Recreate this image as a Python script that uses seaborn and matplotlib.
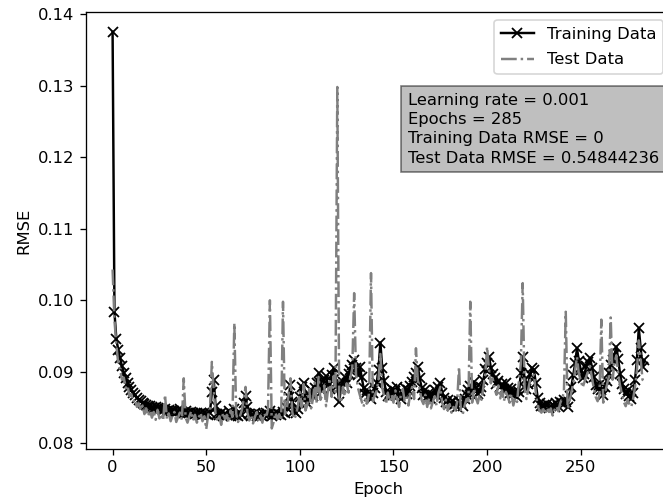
import numpy as np
import seaborn as sns
import matplotlib
matplotlib.use("Agg")
import matplotlib.pyplot as plt

# RMSE per epoch
train_rmse = [
    0.1375, 0.0983, 0.0946, 0.0931, 0.0919, 0.0908, 0.0899, 0.0891, 0.0885, 0.0879,
    0.0874, 0.0870, 0.0867, 0.0864, 0.0861, 0.0859, 0.0857, 0.0855, 0.0854, 0.0853,
    0.0852, 0.0851, 0.0850, 0.0851, 0.0849, 0.0848, 0.0849, 0.0847, 0.0848, 0.0846,
    0.0847, 0.0846, 0.0845, 0.0846, 0.0844, 0.0845, 0.0848, 0.0844, 0.0843, 0.0845,
    0.0843, 0.0842, 0.0844, 0.0842, 0.0841, 0.0843, 0.0841, 0.0842, 0.0840, 0.0842,
    0.0841, 0.0840, 0.0843, 0.0872, 0.0889, 0.0852, 0.0841, 0.0840, 0.0842, 0.0839,
    0.0841, 0.0840, 0.0846, 0.0839, 0.0841, 0.0848, 0.0840, 0.0839, 0.0842, 0.0840,
    0.0856, 0.0866, 0.0851, 0.0841, 0.0839, 0.0840, 0.0842, 0.0839, 0.0841, 0.0840,
    0.0839, 0.0841, 0.0843, 0.0840, 0.0845, 0.0839, 0.0841, 0.0840, 0.0843, 0.0841,
    0.0840, 0.0844, 0.0842, 0.0850, 0.0865, 0.0881, 0.0858, 0.0846, 0.0843, 0.0848,
    0.0865, 0.0879, 0.0884, 0.0862, 0.0857, 0.0868, 0.0874, 0.0866, 0.0878, 0.0884,
    0.0898, 0.0885, 0.0873, 0.0889, 0.0894, 0.0882, 0.0876, 0.0896, 0.0905, 0.0892,
    0.0880, 0.0858, 0.0879, 0.0886, 0.0893, 0.0884, 0.0897, 0.0903, 0.0910, 0.0917,
    0.0905, 0.0895, 0.0907, 0.0893, 0.0878, 0.0869, 0.0874, 0.0866, 0.0862, 0.0871,
    0.0878, 0.0884, 0.0903, 0.0941, 0.0905, 0.0887, 0.0872, 0.0866, 0.0870, 0.0876,
    0.0868, 0.0873, 0.0879, 0.0867, 0.0862, 0.0871, 0.0877, 0.0869, 0.0874, 0.0880,
    0.0886, 0.0893, 0.0899, 0.0907, 0.0891, 0.0878, 0.0868, 0.0874, 0.0865, 0.0871,
    0.0862, 0.0868, 0.0874, 0.0866, 0.0879, 0.0884, 0.0871, 0.0863, 0.0858, 0.0861,
    0.0857, 0.0852, 0.0859, 0.0855, 0.0851, 0.0860, 0.0856, 0.0853, 0.0862, 0.0868,
    0.0874, 0.0880, 0.0868, 0.0886, 0.0877, 0.0869, 0.0873, 0.0879, 0.0888, 0.0904,
    0.0912, 0.0921, 0.0906, 0.0897, 0.0891, 0.0883, 0.0887, 0.0879, 0.0883, 0.0876,
    0.0884, 0.0878, 0.0871, 0.0876, 0.0869, 0.0873, 0.0865, 0.0872, 0.0898, 0.0921,
    0.0889, 0.0876, 0.0883, 0.0897, 0.0905, 0.0903, 0.0884, 0.0864, 0.0857, 0.0852,
    0.0853, 0.0851, 0.0855, 0.0850, 0.0852, 0.0854, 0.0851, 0.0856, 0.0853, 0.0858,
    0.0856, 0.0861, 0.0858, 0.0851, 0.0866, 0.0879, 0.0895, 0.0912, 0.0933, 0.0915,
    0.0903, 0.0891, 0.0897, 0.0908, 0.0914, 0.0919, 0.0906, 0.0893, 0.0881, 0.0876,
    0.0882, 0.0874, 0.0868, 0.0879, 0.0887, 0.0898, 0.0909, 0.0916, 0.0924, 0.0935,
    0.0918, 0.0897, 0.0883, 0.0876, 0.0869, 0.0874, 0.0866, 0.0862, 0.0871, 0.0889,
    0.0917, 0.0961, 0.0933, 0.0907, 0.0916,
]

test_rmse = [
    0.1043, 0.0972, 0.0938, 0.0912, 0.0903, 0.0889, 0.0892, 0.0877, 0.0881, 0.0866,
    0.0869, 0.0858, 0.0862, 0.0851, 0.0856, 0.0846, 0.0853, 0.0841, 0.0849, 0.0838,
    0.0846, 0.0836, 0.0844, 0.0833, 0.0847, 0.0835, 0.0841, 0.0832, 0.0868, 0.0834,
    0.0842, 0.0831, 0.0839, 0.0844, 0.0830, 0.0837, 0.0843, 0.0833, 0.0891, 0.0836,
    0.0829, 0.0838, 0.0845, 0.0832, 0.0840, 0.0829, 0.0836, 0.0843, 0.0831, 0.0838,
    0.0820, 0.0839, 0.0847, 0.0914, 0.0876, 0.0841, 0.0831, 0.0838, 0.0826, 0.0843,
    0.0834, 0.0840, 0.0829, 0.0846, 0.0837, 0.0968, 0.0842, 0.0830, 0.0838, 0.0846,
    0.0861, 0.0879, 0.0843, 0.0832, 0.0840, 0.0828, 0.0837, 0.0844, 0.0831, 0.0839,
    0.0829, 0.0842, 0.0836, 0.0848, 0.1000, 0.0821, 0.0830, 0.0843, 0.0834, 0.0841,
    0.0832, 0.0998, 0.0838, 0.0847, 0.0869, 0.0891, 0.0843, 0.0834, 0.0840, 0.0853,
    0.0872, 0.0851, 0.0883, 0.0846, 0.0854, 0.0876, 0.0849, 0.0862, 0.0885, 0.0857,
    0.0893, 0.0861, 0.0868, 0.0881, 0.0852, 0.0874, 0.0887, 0.0865, 0.0894, 0.0872,
    0.1298, 0.0863, 0.0857, 0.0879, 0.0866, 0.0884, 0.0871, 0.0892, 0.0905, 0.1010,
    0.0896, 0.0878, 0.0868, 0.0859, 0.0851, 0.0862, 0.0856, 0.0871, 0.1038, 0.0859,
    0.0867, 0.0873, 0.0889, 0.0925, 0.0878, 0.0866, 0.0855, 0.0871, 0.0859, 0.0868,
    0.0857, 0.0874, 0.0862, 0.0851, 0.0869, 0.0876, 0.0858, 0.0864, 0.0853, 0.0871,
    0.0879, 0.0862, 0.0933, 0.0888, 0.0876, 0.0861, 0.0855, 0.0868, 0.0851, 0.0863,
    0.0849, 0.0858, 0.0866, 0.0853, 0.0871, 0.0879, 0.0857, 0.0848, 0.0861, 0.0846,
    0.0855, 0.0843, 0.0851, 0.0846, 0.0858, 0.0907, 0.0844, 0.0841, 0.0853, 0.0862,
    0.0859, 0.0998, 0.0857, 0.0877, 0.0864, 0.0856, 0.0868, 0.0861, 0.0879, 0.0896,
    0.0935, 0.0903, 0.0884, 0.0891, 0.0876, 0.0868, 0.0881, 0.0863, 0.0874, 0.0859,
    0.0872, 0.0866, 0.0857, 0.0869, 0.0853, 0.0864, 0.0858, 0.0887, 0.0911, 0.1024,
    0.0878, 0.0862, 0.0876, 0.0889, 0.0893, 0.0896, 0.0871, 0.0852, 0.0846, 0.0843,
    0.0848, 0.0841, 0.0850, 0.0844, 0.0849, 0.0839, 0.0847, 0.0852, 0.0845, 0.0856,
    0.0863, 0.0871, 0.0984, 0.0849, 0.0858, 0.0872, 0.0884, 0.0903, 0.0921, 0.0897,
    0.0889, 0.0878, 0.0886, 0.0894, 0.0901, 0.0908, 0.0891, 0.0877, 0.0865, 0.0859,
    0.0868, 0.0973, 0.0857, 0.0871, 0.0882, 0.0893, 0.0976, 0.0889, 0.0912, 0.0923,
    0.0897, 0.0881, 0.0869, 0.0858, 0.0852, 0.0861, 0.0855, 0.0851, 0.0863, 0.0879,
    0.0902, 0.0944, 0.0918, 0.0889, 0.0886,
]

epochs = np.arange(len(train_rmse))

info_text = ("Learning rate = 0.001\n"
             "Epochs = 285\n"
             "Training Data RMSE = 0\n"
             "Test Data RMSE = 0.54844236")

# original was rendered a bit larger than 100 dpi, so scale everything up
DPI = 118
fig = plt.figure(figsize=(663 / DPI, 502 / DPI), dpi=DPI)
# axes run past the right edge, like the cropped original
ax = fig.add_axes([86 / 663, 53 / 502, 585 / 663, 437 / 502])

sns.lineplot(x=epochs, y=train_rmse, ax=ax, color="black", marker="x",
             markersize=5.5, mec="black", mew=1.1, label="Training Data")
sns.lineplot(x=epochs, y=test_rmse, ax=ax, color="gray", linestyle="-.",
             label="Test Data")

ax.set_xlabel("Epoch")
ax.set_ylabel("RMSE")
ax.legend(loc="upper right", labelspacing=0.65)

ax.text(0.55, 0.815, info_text, transform=ax.transAxes, va="top",
        linespacing=1.36, bbox=dict(facecolor="gray", alpha=0.5))

fig.savefig("out.png", dpi=DPI)
